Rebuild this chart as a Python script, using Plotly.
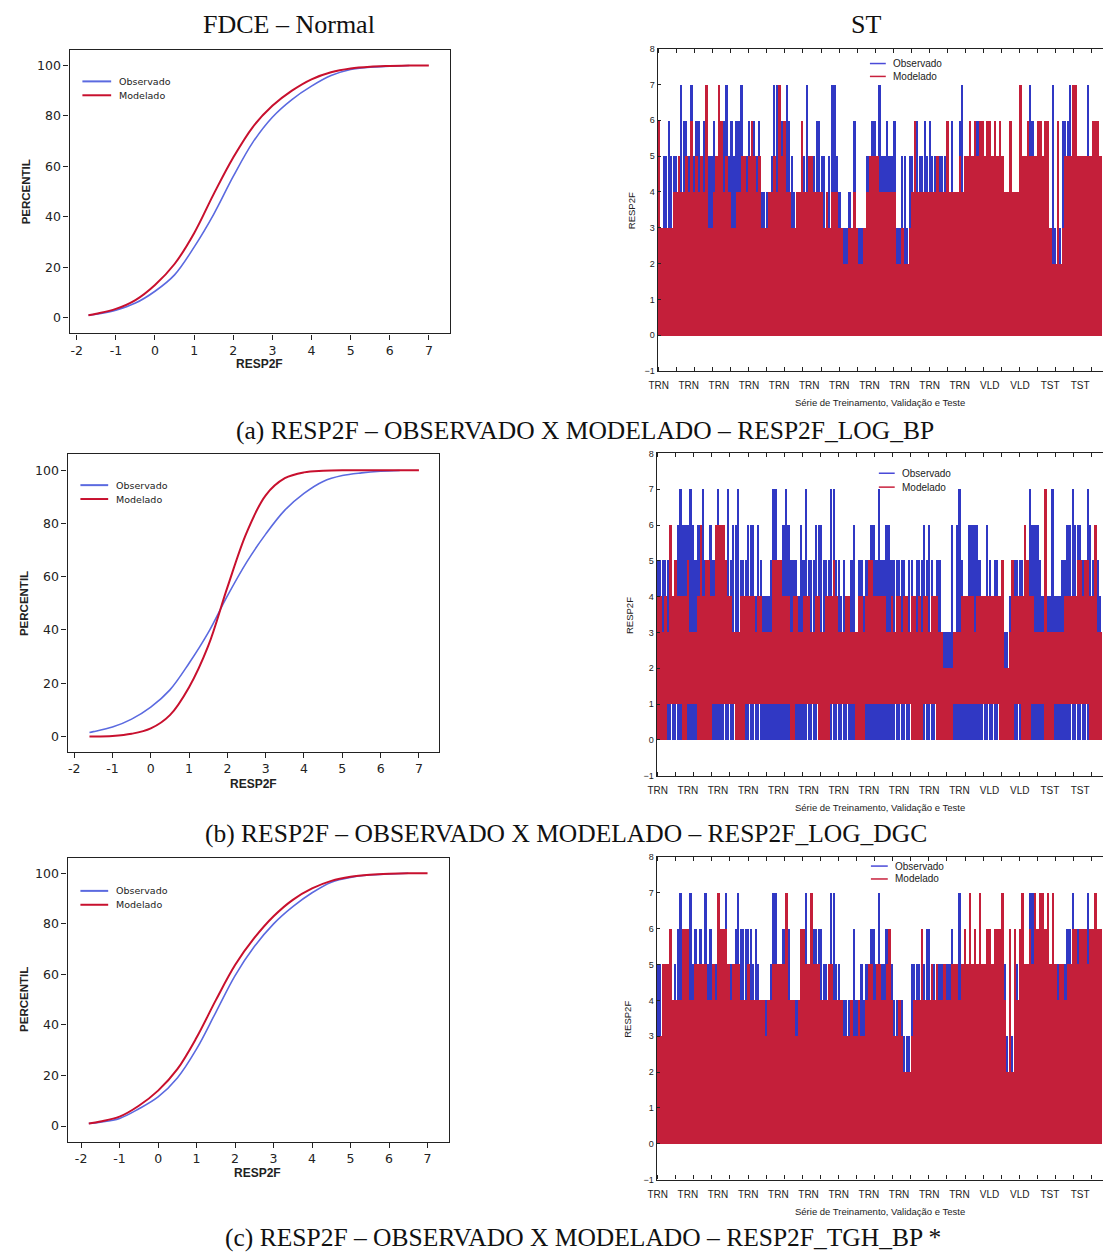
import plotly.graph_objects as go

W, H = 1103, 1254

# ---------------- data: empirical CDF panels (left) ----------------
CDF_X_A = [-1.7, -1.5, -1.0, -0.5, 0.0, 0.5, 1.0, 1.5, 2.0, 2.5, 3.0, 3.5, 4.0, 4.5, 5.0, 5.5, 6.0, 6.5, 7.0]
CDF_OBS_A = [1.0, 1.4, 3.0, 5.8, 10.5, 17.0, 28.0, 41.0, 56.0, 69.5, 79.5, 86.5, 91.8, 96.0, 98.4, 99.3, 99.7, 100.0, None]
CDF_MOD_A = [1.0, 1.6, 3.5, 7.0, 13.0, 21.3, 33.5, 49.0, 63.5, 75.6, 84.0, 90.0, 94.5, 97.3, 98.8, 99.5, 99.8, 100.0, 100.0]

CDF_X_B = [-1.6, -1.5, -1.0, -0.5, 0.0, 0.5, 1.0, 1.5, 2.0, 2.5, 3.0, 3.5, 4.0, 4.5, 5.0, 5.5, 6.0, 6.5, 7.0]
CDF_OBS_B = [1.5, 1.8, 3.5, 6.5, 11.0, 17.5, 27.5, 39.0, 52.8, 65.4, 76.0, 85.0, 91.3, 95.8, 98.0, 99.0, 99.6, 99.9, None]
CDF_MOD_B = [0.0, 0.0, 0.2, 1.0, 3.0, 8.0, 18.5, 34.0, 56.0, 76.5, 90.6, 97.0, 99.2, 99.8, 100.0, 100.0, 100.0, 100.0, 100.0]

CDF_X_C = [-1.8, -1.5, -1.0, -0.5, 0.0, 0.5, 1.0, 1.5, 2.0, 2.5, 3.0, 3.5, 4.0, 4.5, 5.0, 5.5, 6.0, 6.5, 7.0]
CDF_OBS_C = [1.0, 1.5, 3.0, 6.8, 11.5, 19.0, 30.5, 45.0, 59.5, 71.0, 80.0, 86.8, 92.3, 96.5, 98.4, 99.3, 99.7, 100.0, None]
CDF_MOD_C = [1.0, 1.8, 3.7, 8.0, 14.0, 22.5, 35.0, 49.8, 63.7, 74.4, 83.0, 89.5, 94.0, 97.0, 98.6, 99.4, 99.8, 100.0, 100.0]

CDF_TICKS_X = [-2, -1, 0, 1, 2, 3, 4, 5, 6, 7]
CDF_TICKTEXT_X = ["-2", "-1", "0", "1", "2", "3", "4", "5", "6", "7"]
CDF_TICKS_Y = [0, 20, 40, 60, 80, 100]

# ---------------- data: series panels (right) ----------------
TICK_TEXT = ["TRN", "TRN", "TRN", "TRN", "TRN", "TRN", "TRN", "TRN", "TRN", "TRN", "TRN",
             "VLD", "VLD", "TST", "TST"]

OBS_A = [3,3,5,5,6,5,5,5,5,7, 6,6,5,7,5,6,6,5,6,5, 5,5,6,5,6,6,6,7,5,6, 5,6,6,7,5,5,6,5,6,5,
         6,4,4,4,4,5,7,7,7,6, 6,7,6,5,4,4,4,5,5,7, 5,5,5,6,6,5,5,4,5,7, 7,5,4,3,3,3,4,3,6,3,
         3,3,3,5,5,6,6,5,7,5, 5,6,5,5,6,3,3,5,5,3, 5,5,5,6,5,5,6,5,6,5, 5,5,5,5,5,5,4,6,4,4,
         6,7,4,4,5,5,6,6,5,5, 5,5,5,4,4,5,5,5,4,1, 4,4,4,4,4,5,5,5,7,6, 5,5,5,5,5,5,3,7,3,3,
         3,6,6,6,7,6,6,5,5,5, 5,7,5,5,5,2,5]
MOD_A = [6,3,3,3,3,3,4,4,5,4, 4,5,4,6,4,5,4,5,4,7, 3,3,4,5,7,6,4,5,4,3, 3,4,4,5,5,4,5,6,5,4,
         5,3,3,3,4,4,5,4,7,5, 6,4,4,3,3,4,4,6,4,4, 5,5,4,4,4,4,3,4,3,4, 4,4,3,3,2,2,3,3,4,3,
         2,2,3,4,5,5,5,5,4,4, 4,4,4,4,4,2,2,3,2,2, 3,4,6,4,4,4,4,4,4,4, 4,5,4,4,4,6,4,4,4,4,
         5,4,5,5,6,5,6,5,6,6, 5,6,6,5,6,5,6,5,4,4, 6,4,4,4,7,5,5,6,5,5, 5,6,6,5,6,6,3,2,2,6,
         2,3,5,5,5,7,7,5,5,5, 5,5,5,6,6,6,5]

OBS_B = [5,5,5,5,5,5,4,5,6,7, 6,6,6,7,6,5,6,6,7,5, 5,6,5,5,7,5,6,5,7,5, 6,6,7,5,5,5,6,6,6,4,
         6,5,4,4,4,5,7,7,5,5, 6,7,6,5,5,5,4,6,5,7, 5,5,5,6,6,6,5,5,5,7, 7,5,5,4,5,4,4,5,6,3,
         5,5,4,5,5,6,6,5,7,5, 5,6,6,5,5,5,5,5,5,4, 5,5,4,5,5,5,6,5,6,5, 4,5,5,3,3,3,3,6,3,6,
         7,5,4,4,6,6,6,6,5,4, 4,6,5,4,5,5,4,5,3,3, 4,5,5,5,5,5,5,5,7,6, 6,6,5,4,4,4,4,7,4,4,
         4,5,5,6,6,7,6,6,6,5, 5,7,6,5,5,5,4]
MOD_B = [4,4,3,4,3,6,4,5,4,4, 4,4,5,3,3,3,4,6,4,5, 5,4,4,6,6,6,6,5,4,4, 3,3,3,4,4,4,4,4,4,3,
         4,4,3,3,3,3,5,5,5,5, 4,4,4,3,4,4,3,3,4,4, 4,3,3,4,4,3,3,4,4,4, 5,4,3,3,3,4,4,3,3,3,
         4,4,3,4,5,5,4,4,4,4, 4,3,3,4,3,4,4,3,4,4, 3,4,4,3,4,3,4,4,3,4, 4,4,3,3,2,2,2,2,3,3,
         3,4,4,4,4,4,3,4,4,4, 4,4,4,4,4,4,4,5,2,2, 3,5,4,4,4,4,6,5,4,4, 3,3,3,3,7,3,3,3,3,3,
         3,3,4,4,4,4,4,5,5,4, 5,5,4,4,6,3,3]
MODLOW_B = [0,0,0,0,1,1,1,1,1,1, 0,0,1,1,1,1,0,0,0,0, 0,0,1,1,1,1,1,1,1,1, 1,0,0,0,0,1,1,1,1,1,
            1,1,1,1,1,1,1,1,1,1, 1,1,1,0,0,1,1,1,1,1, 1,1,1,1,0,0,0,0,0,1, 1,1,1,1,1,1,1,1,1,0,
            0,0,0,1,1,1,1,1,1,1, 1,1,1,1,1,1,1,1,1,1, 1,0,0,0,0,0,1,1,1,1, 1,0,0,0,0,0,0,0,1,1,
            1,1,1,1,1,1,1,1,1,1, 1,1,1,1,1,1,0,0,0,0, 0,0,1,1,1,0,0,0,0,1, 1,1,1,1,0,0,0,0,1,1,
            1,1,1,1,1,1,1,1,1,1, 1,1,0,0,0,0,0]

OBS_C = [5,5,5,5,5,5,4,5,6,7, 5,6,6,7,5,6,5,6,5,7, 5,6,5,5,6,6,5,7,5,5, 5,6,7,6,6,6,6,6,5,6,
         5,4,4,4,4,5,7,7,5,5, 6,6,6,4,4,4,4,5,5,7, 5,5,6,6,6,6,5,5,5,7, 7,5,5,4,4,4,4,4,6,4,
         4,5,4,5,5,6,6,5,7,5, 5,6,6,5,4,4,4,4,3,3, 3,5,5,5,5,5,5,6,6,5, 5,5,5,5,5,5,5,6,5,5,
         7,5,5,5,5,5,5,5,5,5, 5,5,5,5,5,5,5,5,5,3, 3,3,3,5,5,5,5,5,7,7, 5,5,5,5,5,5,5,5,5,5,
         5,5,5,6,6,7,6,6,6,6, 6,7,6,5,5,5,5]
MOD_C = [3,3,5,5,5,6,4,4,4,4, 6,6,6,4,4,5,5,5,5,5, 4,4,5,4,7,6,6,6,5,4, 5,5,5,4,4,4,5,4,4,4,
         4,4,4,3,4,4,5,5,5,5, 5,7,4,4,4,3,4,6,6,5, 5,7,5,5,5,4,4,4,5,5, 4,4,4,4,3,3,3,4,3,3,
         4,3,3,4,5,5,4,5,5,4, 4,5,6,4,3,3,4,3,2,2, 2,3,4,4,4,6,4,4,4,5, 4,5,4,4,5,4,4,5,5,5,
         4,5,6,5,7,5,6,5,7,5, 5,6,6,5,6,6,6,7,4,2, 6,2,6,4,6,7,5,5,6,5, 7,6,7,7,6,7,5,7,5,4,
         5,5,4,5,5,6,6,5,6,6, 6,5,6,6,7,6,6]

# ---------------- styling ----------------
BLUE_CDF = "#5b6ae0"
RED_CDF = "#c8102e"
BLUE_ST = "#3038c4"
RED_ST = "#c41f3a"
AX = "#222222"


def fx(p):
    return p / W


def fy(p):
    return 1 - p / H


fig = go.Figure()

# left CDF panels
left = [("", CDF_X_A, CDF_OBS_A, CDF_MOD_A),
        ("2", CDF_X_B, CDF_OBS_B, CDF_MOD_B),
        ("3", CDF_X_C, CDF_OBS_C, CDF_MOD_C)]
for s, xs, obs, mod in left:
    fig.add_trace(go.Scatter(x=xs, y=obs, mode="lines", name="Observado",
                             line=dict(color=BLUE_CDF, width=1.6, shape="spline", smoothing=1.0),
                             xaxis="x" + s, yaxis="y" + s, showlegend=False))
    fig.add_trace(go.Scatter(x=xs, y=mod, mode="lines", name="Modelado",
                             line=dict(color=RED_CDF, width=2.0, shape="spline", smoothing=1.0),
                             xaxis="x" + s, yaxis="y" + s, showlegend=False))

# right series panels
right = [("4", OBS_A, MOD_A, None),
         ("5", OBS_B, MOD_B, MODLOW_B),
         ("6", OBS_C, MOD_C, None)]
for s, obs, mod, low in right:
    fig.add_trace(go.Bar(x=list(range(len(obs))), y=obs, base=0, width=0.7,
                         marker=dict(color=BLUE_ST, line=dict(width=0)),
                         xaxis="x" + s, yaxis="y" + s, showlegend=False, name="Observado"))
    if low is None:
        fig.add_trace(go.Bar(x=list(range(len(mod))), y=mod, base=0, width=1.0,
                             marker=dict(color=RED_ST, line=dict(width=0)),
                             xaxis="x" + s, yaxis="y" + s, showlegend=False, name="Modelado"))
    else:
        fig.add_trace(go.Bar(x=list(range(len(mod))), y=[h - l for h, l in zip(mod, low)],
                             base=low, width=1.0,
                             marker=dict(color=RED_ST, line=dict(width=0)),
                             xaxis="x" + s, yaxis="y" + s, showlegend=False, name="Modelado"))

axes = {}
tickfont_l = dict(family="DejaVu Sans", size=12.5, color=AX)
left_geo = [
    ("", (61, 445), (45.7, 331), (-2.185, 7.55), (-6.2, 106)),
    ("2", (59, 434), (453, 753.3), (-2.173, 7.536), (-5.96, 105.96)),
    ("3", (59, 443.3), (860, 1145.7), (-2.353, 7.549), (-6.16, 106)),
]
for s, (x0, x1), (y0, y1), xr, yr in left_geo:
    axes["xaxis" + s] = dict(domain=[fx(x0), fx(x1)], range=list(xr), anchor="y" + s,
                             tickmode="array", tickvals=CDF_TICKS_X, ticktext=CDF_TICKTEXT_X,
                             showline=True, linecolor=AX, linewidth=1.3, mirror=True,
                             ticks="outside", ticklen=5, tickcolor=AX, tickfont=tickfont_l,
                             showgrid=False, zeroline=False)
    axes["yaxis" + s] = dict(domain=[fy(y1), fy(y0)], range=list(yr), anchor="x" + s,
                             tickvals=CDF_TICKS_Y,
                             showline=True, linecolor=AX, linewidth=1.3, mirror=True,
                             ticks="outside", ticklen=5, tickcolor=AX, tickfont=tickfont_l,
                             showgrid=False, zeroline=False)

right_geo = [("4", 654, (44, 369)), ("5", 653, (452, 777)), ("6", 653, (859, 1184))]
for s, x0, (y0, y1) in right_geo:
    axes["xaxis" + s] = dict(domain=[fx(x0), 1.0], range=[-0.4, 177.1], anchor="y" + s,
                             tickmode="array", tickvals=[12 * k for k in range(len(TICK_TEXT))],
                             ticktext=TICK_TEXT, ticks="", ticklabelstandoff=5,
                             tickfont=dict(family="Liberation Sans", size=10, color=AX),
                             minor=dict(ticks="inside", tickmode="linear", tick0=0, dtick=7.19,
                                        ticklen=4, tickcolor=AX, showgrid=False),
                             showline=True, linecolor=AX, linewidth=1.2, mirror="allticks",
                             showgrid=False, zeroline=False)
    axes["yaxis" + s] = dict(domain=[fy(y1), fy(y0)], range=[-1, 8], anchor="x" + s,
                             dtick=1, tick0=0, ticks="inside", ticklen=3, tickcolor=AX,
                             tickfont=dict(family="Liberation Sans", size=9, color=AX),
                             showline=True, linecolor=AX, linewidth=1.2, mirror=False,
                             showgrid=False, zeroline=False)

annotations = []


def text(x, y, t, size, family="Liberation Sans", color=AX, bold=False, angle=0, xanchor="center"):
    if bold:
        t = "<b>" + t + "</b>"
    annotations.append(dict(x=fx(x), y=fy(y), xref="paper", yref="paper", text=t, showarrow=False,
                            font=dict(family=family, size=size, color=color), textangle=angle,
                            xanchor=xanchor, yanchor="middle"))


SERIF = "Liberation Serif"
text(282, 20, "FDCE – Normal", 26, SERIF, "#111")
text(864, 20, "ST", 26, SERIF, "#111")
text(581, 429, "(a) RESP2F – OBSERVADO X MODELADO – RESP2F_LOG_BP", 25.5, SERIF, "#111")
text(562, 835, "(b) RESP2F – OBSERVADO X MODELADO – RESP2F_LOG_DGC", 25.5, SERIF, "#111")
text(579, 1242, "(c) RESP2F – OBSERVADO X MODELADO – RESP2F_TGH_BP *", 25.5, SERIF, "#111")

# left axis titles
for (px_, py_), (rx, ry) in [((17, 188), (253, 362)), ((15, 603), (247, 785)), ((15, 1002), (251, 1177))]:
    text(px_, py_, "PERCENTIL", 11.5, bold=True, angle=-90)
    text(rx, ry, "RESP2F", 12, bold=True)

# right axis titles
for (px_, py_), (sx, sy) in [((627, 207), (878, 401)), ((625, 615), (878, 809)), ((624, 1022), (878, 1216))]:
    text(px_, py_, "RESP2F", 9.5, angle=-90)
    text(sx, sy, "Série de Treinamento, Validação e Teste", 9.5)

shapes = []


def legend_entry(x0, x1, y, tx, label, color, size, family, lw):
    shapes.append(dict(type="line", xref="paper", yref="paper", x0=fx(x0), x1=fx(x1),
                       y0=fy(y), y1=fy(y), line=dict(color=color, width=lw)))
    text(tx, y, label, size, family, AX, xanchor="left")


for (x0, x1, tx, y1, y2) in [(74, 103, 109, 77, 91), (72, 100, 106, 484, 498), (72, 100, 106, 893, 907)]:
    legend_entry(x0, x1, y1, tx, "Observado", BLUE_CDF, 9.5, "DejaVu Sans", 2)
    legend_entry(x0, x1, y2, tx, "Modelado", RED_CDF, 9.5, "DejaVu Sans", 2)

for (x0, x1, tx, y1, y2) in [(868, 884, 889, 59, 72), (877, 893, 898, 472, 486), (869, 886, 891, 868, 881)]:
    legend_entry(x0, x1, y1, tx, "Observado", "#4a4ad8", 10, "Liberation Sans", 1.5)
    legend_entry(x0, x1, y2, tx, "Modelado", "#c8203c", 10, "Liberation Sans", 1.5)

fig.update_layout(width=W, height=H, margin=dict(l=0, r=0, t=0, b=0),
                  paper_bgcolor="white", plot_bgcolor="white",
                  barmode="overlay", bargap=0, showlegend=False,
                  annotations=annotations, shapes=shapes, **axes)

fig.write_html("out.html")
